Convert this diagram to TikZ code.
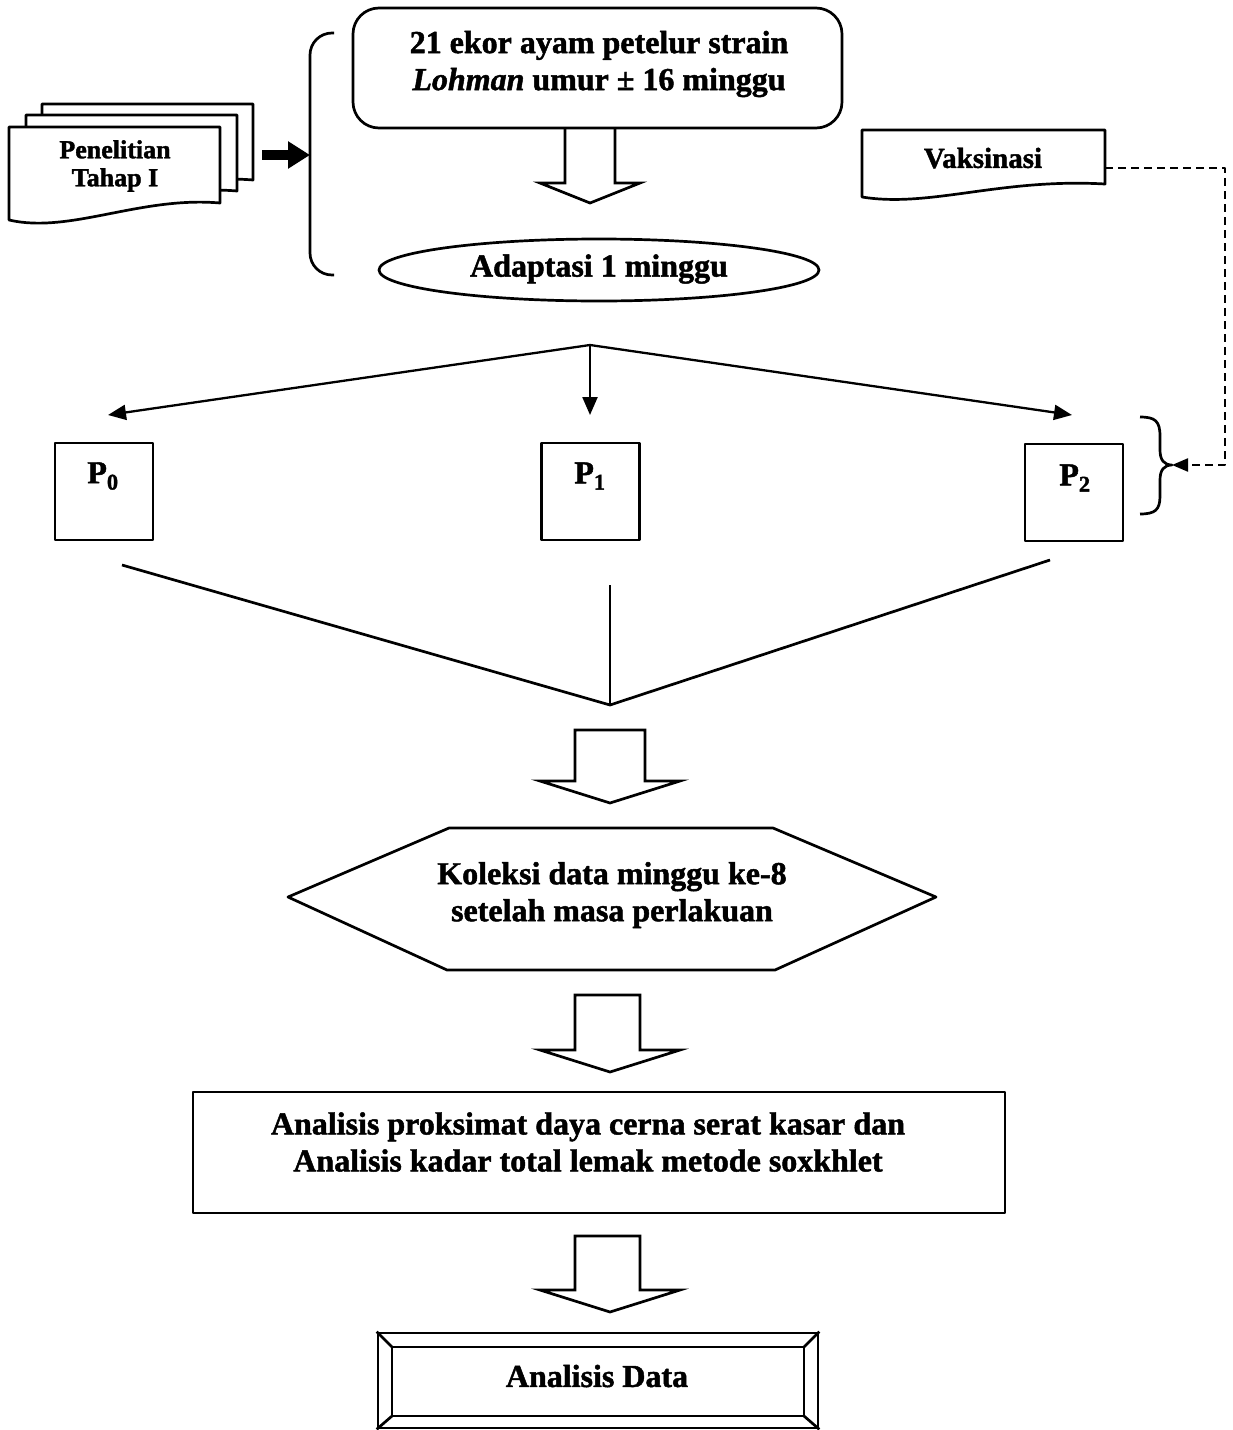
\documentclass[tikz,border=0pt]{standalone}
\usepackage{fontspec}
\setmainfont{Liberation Serif}[BoldFeatures={FakeBold=1.5},BoldItalicFeatures={FakeBold=1.5}]
\usetikzlibrary{arrows.meta,shapes.geometric}
\begin{document}
\begin{tikzpicture}[x=1pt,y=-1pt, line width=2.7pt, line join=round,
  txt/.style={font=\fontsize{32}{37}\selectfont\bfseries, align=center, inner sep=0pt},
  smalltxt/.style={font=\fontsize{26}{28}\selectfont\bfseries, align=center, inner sep=0pt},
  shp/.style={draw, fill=white},
  pbox/.style={draw, minimum width=98pt, minimum height=97pt, inner sep=0pt},
  arr/.style={-{Triangle[length=18pt,width=15pt]}, line width=2.3pt},
  blockarrow/.style={draw, fill=white, line width=2.7pt, line join=miter}
]
\useasboundingbox (0,0) rectangle (1232,1430);

% ---- multi document "Penelitian Tahap I"
\def\docpath{(9,127) -- (220,127) -- (220,203) .. controls (140,196) and (70,234) .. (9,220) -- cycle}
\begin{scope}[shift={(33,-23)}]
  \filldraw[fill=white] \docpath;
\end{scope}
\begin{scope}[shift={(17,-12)}]
  \filldraw[fill=white] \docpath;
\end{scope}
\filldraw[fill=white] \docpath;
\node[smalltxt] (doc) at (115,166) {Penelitian\\Tahap I};

% thick arrow to bracket
\coordinate (docR) at (262,155);
\coordinate (brk) at (310,155);
\draw[line width=10pt, -{Triangle[length=22pt,width=26pt]}] (docR) -- (brk);

% left bracket
\draw[rounded corners=22pt] (334,33) -- (310,33) -- (310,275) -- (334,275);

% ---- top rounded box
\node[draw, rounded corners=26pt, minimum width=489pt, minimum height=120pt, inner sep=0pt] (topbox) at (597.5,68) {};
\node[txt] (toptext) at (599,64) {21 ekor ayam petelur strain\\\textit{Lohman} umur ± 16 minggu};

% block arrow 1 (open top joined to box)
\draw[line width=2.7pt, line join=miter] (565,128) -- (565,183) -- (540,183) -- (590,203) -- (640,183) -- (615,183) -- (615,128);

% ---- ellipse
\node[draw, ellipse, minimum width=440pt, minimum height=62pt, inner sep=0pt] (adapt) at (599,270) {};
\node[txt] (adapttext) at (599,269) {Adaptasi 1 minggu};

% ---- Vaksinasi document
\filldraw[fill=white] (862,130) -- (1105,130) -- (1105,184) .. controls (1000,178) and (930,208) .. (862,197) -- cycle;
\node[txt, font=\fontsize{29}{32}\selectfont\bfseries] (vaks) at (983,158) {Vaksinasi};

% ---- split arrows
\coordinate (split) at (590,345);
\coordinate (t0) at (108,415);
\coordinate (t1) at (590,415);
\coordinate (t2) at (1072,415);
\draw[arr] (split) -- (t0);
\draw[arr] (split) -- (t1);
\draw[arr] (split) -- (t2);

% ---- P boxes
\node[pbox] (P0) at (104,491.5) {};
\node[pbox] (P1) at (590.5,491.5) {};
\node[pbox] (P2) at (1074,492.5) {};
\node[txt] (P0t) at (103,476) {P\textsubscript{0}};
\node[txt] (P1t) at (590,476) {P\textsubscript{1}};
\node[txt] (P2t) at (1075,478) {P\textsubscript{2}};

% ---- right brace and dashed connector
\coordinate (brace2) at (1172,465);
\draw (1140,417) .. controls (1155,417) and (1160,421) .. (1160,436) -- (1160,450)
      .. controls (1160,460) and (1164,465) .. (brace2)
      .. controls (1164,465) and (1160,470) .. (1160,480) -- (1160,496)
      .. controls (1160,510) and (1155,514) .. (1140,514);
\coordinate (vakR) at (1105,168);
\draw[line width=2.2pt, dash pattern=on 8pt off 5pt, -{Triangle[length=16pt,width=13pt]}] (vakR) -- (1225,168) -- (1225,465) -- (brace2);

% ---- converging lines
\coordinate (c0) at (122,565);
\coordinate (c1) at (610,585);
\coordinate (c2) at (1050,560);
\coordinate (join) at (610,705);
\draw (c0) -- (join) -- (c2);
\draw (c1) -- (join);

% ---- block arrow 2
\draw[blockarrow] (575,730) -- (645,730) -- (645,781) -- (680,781) -- (610,803) -- (540,781) -- (575,781) -- cycle;

% ---- hexagon
\draw[shp] (288,897) -- (449,828) -- (773,828) -- (936,897) -- (775,970) -- (447,970) -- cycle;
\node[txt] (koleksi) at (612,895) {Koleksi data minggu ke-8\\setelah masa perlakuan};

% ---- block arrow 3
\draw[blockarrow] (575,995) -- (640,995) -- (640,1050) -- (680,1050) -- (610,1072) -- (540,1050) -- (575,1050) -- cycle;

% ---- analisis box
\node[draw, minimum width=812pt, minimum height=121pt, inner sep=0pt] (anal) at (599,1152.5) {};
\node[txt] (analtext) at (588,1142) {Analisis proksimat daya cerna serat kasar dan\\Analisis kadar total lemak metode soxkhlet};

% ---- block arrow 4
\draw[blockarrow] (575,1236) -- (640,1236) -- (640,1290) -- (680,1290) -- (610,1312) -- (540,1290) -- (575,1290) -- cycle;

% ---- bevel box
\node[draw, minimum width=440pt, minimum height=95pt, inner sep=0pt] (data) at (598,1380.5) {};
\draw (392,1347) rectangle (804,1416);
\draw (data.north west) -- (392,1347);
\draw (data.north east) -- (804,1347);
\draw (data.south west) -- (392,1416);
\draw (data.south east) -- (804,1416);
\node[txt] (datatext) at (597,1376) {Analisis Data};
\end{tikzpicture}
\end{document}
